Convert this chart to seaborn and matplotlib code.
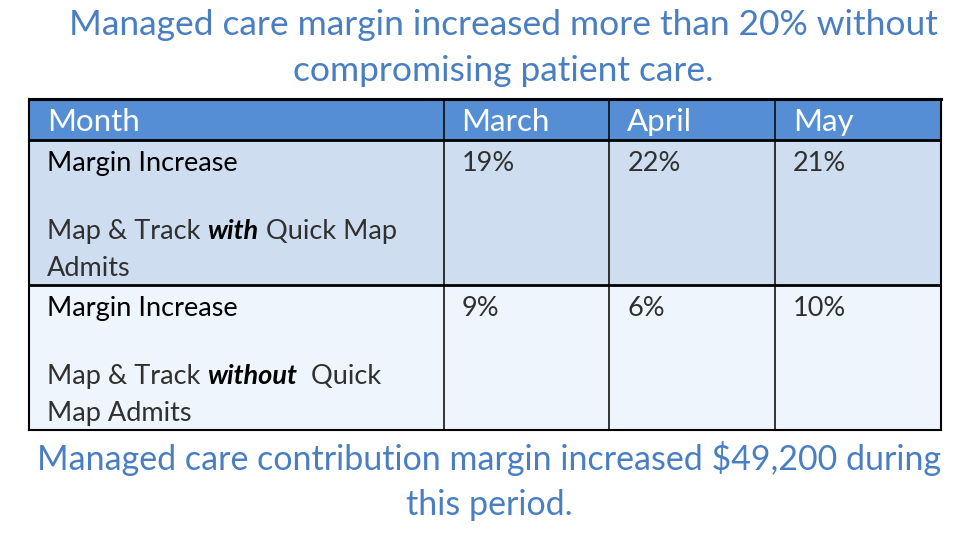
import matplotlib
matplotlib.use("Agg")
import matplotlib.pyplot as plt
import matplotlib.transforms as mtransforms
import numpy as np
import seaborn as sns
from matplotlib.colors import ListedColormap

# Text / data
title_lines = ["Managed care margin increased more than 20% without",
               "compromising patient care."]
footer_lines = ["Managed care contribution margin increased $49,200 during",
                "this period."]
header = ["Month", "March", "April", "May"]
row_labels = ["Margin Increase", "Margin Increase"]
# each note is a list of lines, each line a list of (text, style) pieces
row_notes = [
    [[("Map & Track", "light"), ("with", "bi"), ("Quick Map", "light")],
     [("Admits", "light")]],
    [[("Map & Track", "light"), ("without", "bi"), (" Quick", "light")],
     [("Map Admits", "light")]],
]
values_with = [19, 22, 21]
values_without = [9, 6, 10]
row_values = [values_with, values_without]

# Cell grid (relative widths / heights of table columns and rows)
col_units = [5, 2, 2, 2]
row_units = [2, 7, 7]

header_color = "#558ED5"
row_colors = ["#CFDDF0", "#EEF5FD"]
title_color = "#4A7EC2"

sns.set_theme(style="white")
plt.rcParams['font.family'] = ['Lato', 'DejaVu Sans']

W, H = 970, 539
fig = plt.figure(figsize=(W / 100, H / 100), dpi=100)
fig.patch.set_facecolor("white")
ax = fig.add_axes([29 / W, 1 - 430 / H, 912 / W, 331 / H])

# build a fill-code matrix: 0 = header, 1 = first body row, 2 = second body row
codes = np.repeat(np.arange(len(row_units)), row_units)
grid = np.repeat(codes[:, None], sum(col_units), axis=1)
cmap = ListedColormap([header_color] + row_colors)
sns.heatmap(grid, ax=ax, cmap=cmap, vmin=-0.5, vmax=2.5, cbar=False,
            xticklabels=False, yticklabels=False, linewidths=0)

col_edges = np.concatenate([[0], np.cumsum(col_units)])
row_edges = np.concatenate([[0], np.cumsum(row_units)])

# borders
ax.vlines(col_edges[1:-1], 0, row_edges[-1], color="black", lw=1.1)
ax.hlines(row_edges[1:-1], 0, col_edges[-1], color="black", lw=2.0)
for s in ax.spines.values():
    s.set_visible(True)
    s.set_color("black")
    s.set_linewidth(1.5)
ax.spines["top"].set_linewidth(2.2)

fig.canvas.draw()
renderer = fig.canvas.get_renderer()

styles = {
    "reg": dict(fontweight="normal", fontstyle="normal", color="#000000"),
    "light": dict(fontweight="normal", fontstyle="normal", color="#303030"),
    "bi": dict(fontweight="bold", fontstyle="italic", color="#000000"),
    "head": dict(fontweight="normal", fontstyle="normal", color="white"),
}


def cell_text(col, row, dx, dy, text, size, style):
    tr = mtransforms.offset_copy(ax.transData, fig=fig, x=dx, y=-dy, units="dots")
    return ax.text(col_edges[col], row_edges[row], text, transform=tr,
                   fontsize=size, va="baseline", ha="left", **styles[style])


def rich_line(col, row, dx, dy, parts, size):
    a = ax.text(0, 0, "x x", fontsize=size)
    b = ax.text(0, 0, "xx", fontsize=size)
    space = a.get_window_extent(renderer).width - b.get_window_extent(renderer).width
    a.remove()
    b.remove()
    x = dx
    for text, style in parts:
        t = cell_text(col, row, x, dy, text, size, style)
        x += t.get_window_extent(renderer).width + space


body_size = 19.5
head_size = 22.5

for j, h in enumerate(header):
    cell_text(j, 0, 18, 32, h, head_size, "head")

for i in range(2):
    r = i + 1
    cell_text(0, r, 18, 31, row_labels[i], body_size, "reg")
    for k, line in enumerate(row_notes[i]):
        rich_line(0, r, 18, 99 + 37 * k, line, body_size)
    for j, v in enumerate(row_values[i]):
        cell_text(j + 1, r, 18, 31, f"{v}%", body_size, "light")

# title and footer
fig.text(503 / W, 1 - 35 / H, title_lines[0], ha="center", va="baseline",
         fontsize=25.5, color=title_color)
fig.text(503 / W, 1 - 81 / H, title_lines[1], ha="center", va="baseline",
         fontsize=25.5, color=title_color)
fig.text(489 / W, 1 - 470 / H, footer_lines[0], ha="center", va="baseline",
         fontsize=24.5, color=title_color)
fig.text(489 / W, 1 - 515 / H, footer_lines[1], ha="center", va="baseline",
         fontsize=24.5, color=title_color)

fig.savefig("out.png", dpi=100, facecolor="white")
